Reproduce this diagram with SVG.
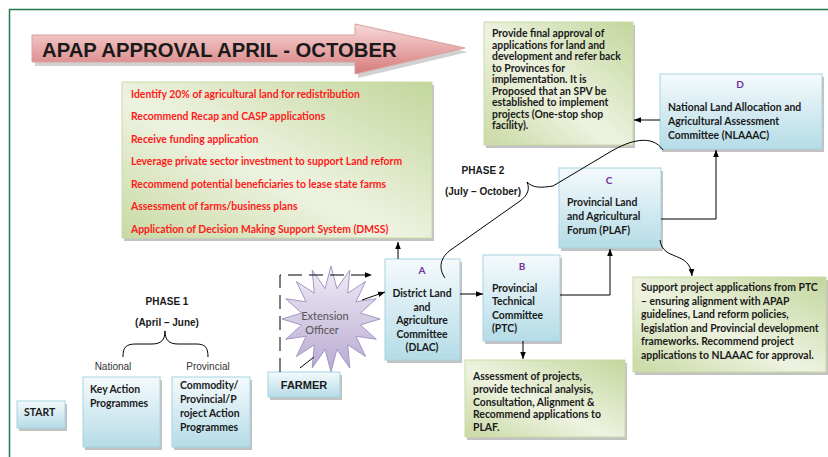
<svg xmlns="http://www.w3.org/2000/svg" width="828" height="457" viewBox="0 0 828 457">
<style>
.box{font-family:Lato,"Liberation Sans",sans-serif;font-weight:bold;font-size:10.4px;fill:#1a1a1a}
.red{font-family:Lato,"Liberation Sans",sans-serif;font-weight:bold;font-size:10.4px;fill:#ff1a1a}
.let{font-family:Lato,"Liberation Sans",sans-serif;font-weight:bold;font-size:10px;fill:#7030a0}
.ph{font-family:"Liberation Sans",Arial,sans-serif;font-weight:bold;font-size:10px;fill:#1a1a1a}
.lbl{font-family:"Liberation Sans",Arial,sans-serif;font-size:10px;fill:#333}
.blue{fill:url(#gBlue);stroke:#a6d4e2;stroke-width:1}
.green{fill:url(#gGreen);stroke:#c9dba6;stroke-width:1}
.sh{fill:#9a9a9a;opacity:0.6}
.ln{fill:none;stroke:#000;stroke-width:1}
</style>
<defs>
<linearGradient id="gBlue" x1="0" y1="0" x2="0" y2="1">
<stop offset="0" stop-color="#f5fafc"/><stop offset="1" stop-color="#b5dce7"/>
</linearGradient>
<linearGradient id="gGreen" x1="0" y1="1" x2="1" y2="0">
<stop offset="0" stop-color="#c9d9a4"/><stop offset="0.45" stop-color="#eef3e1"/><stop offset="1" stop-color="#c3d69c"/>
</linearGradient>
<linearGradient id="gArrow" x1="0" y1="0" x2="0" y2="1">
<stop offset="0" stop-color="#f7d9d9"/><stop offset="1" stop-color="#d77a7a"/>
</linearGradient>
<linearGradient id="gStar" x1="0" y1="0" x2="0" y2="1">
<stop offset="0" stop-color="#f0ecf6"/><stop offset="1" stop-color="#b8aad2"/>
</linearGradient>
<marker id="ah" viewBox="0 0 10 10" refX="10" refY="5" markerWidth="7" markerHeight="7" orient="auto-start-reverse" markerUnits="userSpaceOnUse">
<path d="M0,1 L10,5 L0,9 z" fill="#000"/>
</marker>
</defs>
<rect width="828" height="457" fill="#fff"/>
<path d="M9.5,457 L9.5,9.5 L828,9.5" fill="none" stroke="#1f7a4d" stroke-width="1.5"/>

<g id="title">
<path d="M35,39 L358,39 L358,28 L468,52 L358,78 L358,66 L35,66 z" fill="#999" opacity="0.45"/>
<path d="M32,35 L355,35 L355,24 L465,48 L355,74 L355,62 L32,62 z" fill="url(#gArrow)" stroke="#d9a0a0" stroke-width="1"/>
<text x="42" y="57" font-family="'Liberation Sans',Arial,sans-serif" font-weight="bold" font-size="20.3px" fill="#1a1a1a">APAP APPROVAL APRIL - OCTOBER</text>
</g>

<g id="dlac-tasks">
<rect class="sh" x="124" y="85" width="310" height="156"/>
<rect class="green" x="122" y="82" width="310" height="156"/>
<text class="red" x="131" y="98">Identify 20% of agricultural land for redistribution</text>
<text class="red" x="131" y="120">Recommend Recap and CASP applications</text>
<text class="red" x="131" y="143">Receive funding application</text>
<text class="red" x="131" y="165">Leverage private sector investment to support Land reform</text>
<text class="red" x="131" y="188">Recommend potential beneficiaries to lease state farms</text>
<text class="red" x="131" y="210">Assessment of farms/business plans</text>
<text class="red" x="131" y="233">Application of Decision Making Support System (DMSS)</text>
</g>

<g id="final-approval">
<rect class="sh" x="486" y="25" width="149" height="123"/>
<rect class="green" x="484" y="22" width="149" height="123"/>
<text class="box" x="492" y="37">Provide final approval of</text>
<text class="box" x="492" y="48.5">applications for land and</text>
<text class="box" x="492" y="60">development and refer back</text>
<text class="box" x="492" y="71.5">to Provinces for</text>
<text class="box" x="492" y="83">implementation. It is</text>
<text class="box" x="492" y="94.5">Proposed that an SPV be</text>
<text class="box" x="492" y="106">established to implement</text>
<text class="box" x="492" y="117.5">projects (One-stop shop</text>
<text class="box" x="492" y="129">facility).</text>
</g>

<g id="nlaaac">
<rect class="sh" x="662" y="77" width="162" height="75"/>
<rect class="blue" x="660" y="74" width="162" height="75"/>
<text class="let" x="740" y="88" text-anchor="middle">D</text>
<text class="box" x="668" y="111">National Land Allocation and</text>
<text class="box" x="668" y="125">Agricultural Assessment</text>
<text class="box" x="668" y="139">Committee (NLAAAC)</text>
</g>

<g id="plaf">
<rect class="sh" x="561" y="171" width="102" height="80"/>
<rect class="blue" x="559" y="168" width="102" height="80"/>
<text class="let" x="609" y="184" text-anchor="middle">C</text>
<text class="box" x="567" y="206">Provincial Land</text>
<text class="box" x="567" y="220">and Agricultural</text>
<text class="box" x="567" y="234">Forum (PLAF)</text>
</g>

<g id="phase2">
<text class="ph" x="483" y="174" text-anchor="middle">PHASE 2</text>
<text class="ph" x="483" y="195" text-anchor="middle">(July – October)</text>
</g>

<g id="dlac">
<rect class="sh" x="387" y="262" width="75" height="101"/>
<rect class="blue" x="385" y="259" width="75" height="101"/>
<text class="let" x="422" y="274" text-anchor="middle">A</text>
<text class="box" x="422" y="297" text-anchor="middle">District Land</text>
<text class="box" x="422" y="311" text-anchor="middle">and</text>
<text class="box" x="422" y="324" text-anchor="middle">Agriculture</text>
<text class="box" x="422" y="338" text-anchor="middle">Committee</text>
<text class="box" x="422" y="351" text-anchor="middle">(DLAC)</text>
</g>

<g id="ptc">
<rect class="sh" x="485" y="258" width="77" height="86"/>
<rect class="blue" x="483" y="255" width="77" height="86"/>
<text class="let" x="522" y="270" text-anchor="middle">B</text>
<text class="box" x="492" y="292">Provincial</text>
<text class="box" x="492" y="305">Technical</text>
<text class="box" x="492" y="319">Committee</text>
<text class="box" x="492" y="332">(PTC)</text>
</g>

<g id="assessment">
<rect class="sh" x="467" y="363" width="160" height="77"/>
<rect class="green" x="465" y="360" width="160" height="77"/>
<text class="box" x="473" y="380">Assessment of projects,</text>
<text class="box" x="473" y="393">provide technical analysis,</text>
<text class="box" x="473" y="406">Consultation, Alignment &amp;</text>
<text class="box" x="473" y="418">Recommend applications to</text>
<text class="box" x="473" y="431">PLAF.</text>
</g>

<g id="support">
<rect class="sh" x="635" y="280" width="193" height="95"/>
<rect class="green" x="633" y="277" width="193" height="95"/>
<text class="box" x="641" y="291">Support project applications from PTC</text>
<text class="box" x="641" y="305">– ensuring alignment with APAP</text>
<text class="box" x="641" y="318">guidelines, Land reform policies,</text>
<text class="box" x="641" y="332">legislation and Provincial development</text>
<text class="box" x="641" y="345">frameworks. Recommend project</text>
<text class="box" x="641" y="359">applications to NLAAAC for approval.</text>
</g>

<g id="extension-officer">
<polygon points="331,266 336.9,288.6 349.8,270 347.7,293.2 365.6,281.5 355.9,301.8 376.3,298.7 360.4,313 380,319 360.4,325 376.3,339.3 355.9,336.2 365.6,356.5 347.7,344.8 349.8,368 336.9,349.4 331,372 325.1,349.4 312.2,368 314.3,344.8 296.4,356.5 306.1,336.2 285.7,339.3 301.6,325 282,319 301.6,313 285.7,298.7 306.1,301.8 296.4,281.5 314.3,293.2 312.2,270 325.1,288.6" fill="url(#gStar)" stroke="#a597c6" stroke-width="1"/>
<text x="325" y="320" text-anchor="middle" font-family="Lato,'Liberation Sans',sans-serif" font-size="11px" fill="#555">Extension</text>
<text x="322" y="334" text-anchor="middle" font-family="Lato,'Liberation Sans',sans-serif" font-size="11px" fill="#555">Officer</text>
</g>

<g id="farmer">
<rect class="sh" x="270" y="375" width="72" height="25"/>
<rect class="blue" x="268" y="372" width="72" height="25"/>
<text x="304" y="389" text-anchor="middle" font-family="'Liberation Sans',Arial,sans-serif" font-weight="bold" font-size="11px" fill="#1a1a1a">FARMER</text>
</g>

<g id="phase1">
<text class="ph" x="167" y="305" text-anchor="middle">PHASE 1</text>
<text class="ph" x="167" y="326" text-anchor="middle">(April – June)</text>
<path class="ln" d="M123,357 C123,347 126,344 136,344 L152,344 C161,344 165,340 165,331 C165,340 169,344 178,344 L196,344 C205,344 208,347 208,357"/>
<text class="lbl" x="113" y="370" text-anchor="middle">National</text>
<text class="lbl" x="208" y="370" text-anchor="middle">Provincial</text>
</g>

<g id="key-action">
<rect class="sh" x="85" y="380" width="77" height="70"/>
<rect class="blue" x="83" y="377" width="77" height="70"/>
<text class="box" x="90" y="393">Key Action</text>
<text class="box" x="90" y="407">Programmes</text>
</g>

<g id="commodity">
<rect class="sh" x="174" y="380" width="78" height="70"/>
<rect class="blue" x="172" y="377" width="78" height="70"/>
<text class="box" x="180" y="389">Commodity/</text>
<text class="box" x="180" y="403">Provincial/P</text>
<text class="box" x="180" y="417">roject Action</text>
<text class="box" x="180" y="431">Programmes</text>
</g>

<g id="start">
<rect class="sh" x="19" y="404" width="48" height="27"/>
<rect class="blue" x="17" y="401" width="48" height="27"/>
<text class="box" x="24" y="416" font-size="9px">START</text>
</g>

<g id="connectors">
<path class="ln" d="M398,259 L398,242" marker-end="url(#ah)"/>
<path class="ln" d="M660,120 L634,120" marker-end="url(#ah)"/>
<path class="ln" d="M661,219 L716,219 L716,150" marker-end="url(#ah)"/>
<path class="ln" d="M460,294 L483,294" marker-end="url(#ah)"/>
<path class="ln" d="M560,295 L610,295 L610,249" marker-end="url(#ah)"/>
<path class="ln" d="M523,341 L523,359" marker-end="url(#ah)"/>
<path class="ln" d="M660,240 C663,262 690,250 692,276" marker-end="url(#ah)"/>
<path class="ln" d="M280,372 L280,275 L372,275" stroke-dasharray="14,7" marker-end="url(#ah)"/>
<path class="ln" d="M300,368 L314,357"/>
<path class="ln" d="M362,300 L385,292" marker-end="url(#ah)"/>
<path class="ln" d="M445,278 C438,268 440,257 452,249 L520,201 C528,195 530,189 527,182 C533,188 540,188 553,186 L610,152 C630,140 652,134 663,150"/>
</g>
</svg>
